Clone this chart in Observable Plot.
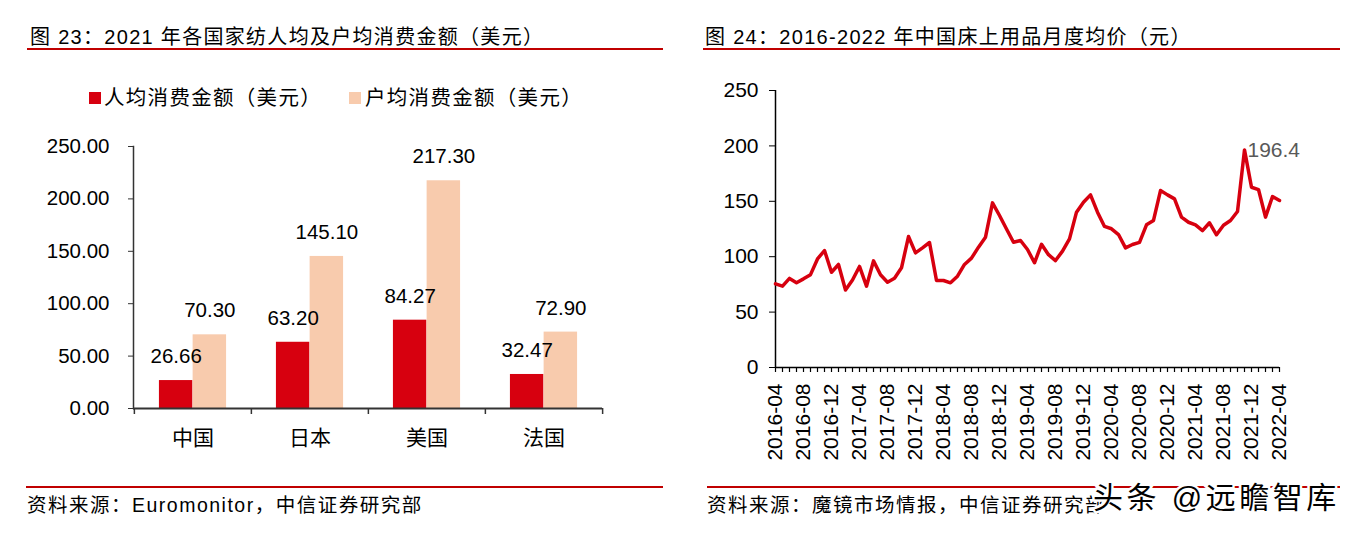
<!DOCTYPE html>
<html><head><meta charset="utf-8">
<script src="https://cdn.jsdelivr.net/npm/d3@7"></script>
<script src="https://cdn.jsdelivr.net/npm/@observablehq/plot@0.6"></script>
<style>
body{margin:0;background:#fff;}
#page{position:relative;width:1353px;height:534px;overflow:hidden;font-family:"Liberation Sans",Arial,"Noto Sans CJK SC",sans-serif;color:#000;background:#fff;}
.abs{position:absolute;white-space:nowrap;}
.title{font-size:20px;line-height:24px;letter-spacing:1.3px;}
.rule{position:absolute;height:2px;background:#C00000;}
.legend{font-size:20.5px;line-height:24px;letter-spacing:1.3px;}
.sw{position:absolute;width:12px;height:12px;}
.src{font-size:19.5px;line-height:24px;letter-spacing:1.5px;}
.wm{font-size:30px;line-height:34px;font-weight:400;color:#000;letter-spacing:3.5px;-webkit-text-stroke:5px #fff;paint-order:stroke fill;}
svg.chart{position:absolute;overflow:visible;}
</style></head>
<body><div id="page"></div>
<script>
// ---------- data ----------
const countries = ["中国", "日本", "美国", "法国"];
const perCapita = [26.66, 63.20, 84.27, 32.47];
const perHousehold = [70.30, 145.10, 217.30, 72.90];
const barSeries = ["人均消费金额（美元）", "户均消费金额（美元）"];
const barColors = ["#D7000F", "#F8CBAD"];
const barTicks = [0, 50, 100, 150, 200, 250];

const monthStart = "2016-04";
const monthEnd = "2022-04";
const priceValues = [
  75.5, 73.4, 80.4, 76.5, 80, 83.8, 98, 105.6, 86,
  93, 70, 79, 91.2, 73.4, 96.2, 83.7, 77, 80.6, 90, 118.2, 103.5,
  108, 112.8, 78.5, 78.5, 76.4, 82.4, 93, 98.7, 108.6, 117.6, 148.6, 137.2,
  125, 113, 114.6, 106.5, 94.5, 111.2, 101.8, 96.5, 105, 116.1, 140.2, 149.2,
  155.8, 140.2, 127.3, 125.2, 120, 108, 111, 113, 128.8, 132.7, 159.7, 155.8,
  152.2, 135.7, 131.1, 128.8, 123.6, 130.6, 119.8, 128.4, 132.7, 140.8, 196.4, 162.7,
  160.6, 135.7, 154.3, 150.7
];
const lineTicks = [0, 50, 100, 150, 200, 250];
const monthTickLabels = ["2016-04","2016-08","2016-12","2017-04","2017-08","2017-12","2018-04","2018-08","2018-12",
  "2019-04","2019-08","2019-12","2020-04","2020-08","2020-12","2021-04","2021-08","2021-12","2022-04"];

const titleLeft = "图 23：2021 年各国家纺人均及户均消费金额（美元）";
const titleRight = "图 24：2016-2022 年中国床上用品月度均价（元）";
const sourceLeft = "资料来源：Euromonitor，中信证券研究部";
const sourceRight = "资料来源：魔镜市场情报，中信证券研究部";
const watermark = "头条 @远瞻智库";

// ---------- layout helpers ----------
const FONT = '"Liberation Sans", Arial, "Noto Sans CJK SC", sans-serif';
const page = document.getElementById("page");
function addDiv(cls, text, left, top, extra) {
  const d = document.createElement("div");
  d.className = "abs " + cls;
  d.textContent = text;
  d.style.left = left + "px";
  d.style.top = top + "px";
  if (extra) Object.assign(d.style, extra);
  page.appendChild(d);
  return d;
}
function addRule(left, top, width) {
  const d = document.createElement("div");
  d.className = "rule";
  d.style.left = left + "px"; d.style.top = top + "px"; d.style.width = width + "px";
  page.appendChild(d);
}

// titles and rules
addDiv("title", titleLeft, 30, 25);
addRule(27, 48, 636);
addDiv("title", titleRight, 705, 25);
addRule(703, 48, 637);

// legend (left chart)
const legendPos = [[89, 104], [349, 365]];
barSeries.forEach((s, i) => {
  const sw = document.createElement("div");
  sw.className = "sw";
  sw.style.left = legendPos[i][0] + "px"; sw.style.top = "92px";
  sw.style.background = barColors[i];
  page.appendChild(sw);
  addDiv("legend", s, legendPos[i][1], 86);
});

// ---------- bar chart ----------
const W1 = 680, H1 = 350, ML1 = 133, MR1 = 78;
const bw = (W1 - ML1 - MR1) / countries.length;
const barW = 33.7;
const barData = countries.flatMap((c, i) => [
  {country: c, series: barSeries[0], value: perCapita[i]},
  {country: c, series: barSeries[1], value: perHousehold[i]}
]);
const redData = barData.filter(d => d.series === barSeries[0]);
const peachData = barData.filter(d => d.series === barSeries[1]);
const axisCol = "#333";
const barPlot = Plot.plot({
  width: W1, height: H1, marginLeft: ML1, marginRight: MR1, marginTop: 26, marginBottom: 62,
  style: {fontFamily: FONT, fontSize: "20.5px", color: "#000", background: "transparent", overflow: "visible"},
  x: {domain: countries, padding: 0, axis: null},
  y: {domain: [0, 250], axis: null},
  color: {domain: barSeries, range: barColors},
  marks: [
    Plot.barY(redData, {x: "country", y: "value", fill: "series", insetLeft: bw / 2 - barW, insetRight: bw / 2}),
    Plot.barY(peachData, {x: "country", y: "value", fill: "series", insetLeft: bw / 2, insetRight: bw / 2 - barW}),
    Plot.text(redData, {x: "country", y: "value", text: d => d.value.toFixed(2), dx: -barW / 2, dy: -24, fontSize: 20.5, fill: "#000"}),
    Plot.text(peachData, {x: "country", y: "value", text: d => d.value.toFixed(2), dx: barW / 2, dy: -24, fontSize: 20.5, fill: "#000"}),
    Plot.frame({anchor: "left", stroke: axisCol, strokeWidth: 1.5}),
    Plot.ruleY([0], {stroke: axisCol, strokeWidth: 2}),
    Plot.axisY({ticks: barTicks, tickFormat: d => d.toFixed(2), tickSize: 5, tickPadding: 19, stroke: axisCol, fill: "#000", fontSize: 20.5, label: null}),
    Plot.axisX({tickSize: 0, tickPadding: 22, fontSize: 21, fill: "#000", label: null}),
    Plot.axisX({tickSize: 6, text: null, dx: -bw / 2, stroke: axisCol, strokeWidth: 1.5, label: null}),
    Plot.axisX({ticks: [countries[countries.length - 1]], tickSize: 6, text: null, dx: bw / 2, stroke: axisCol, strokeWidth: 1.5, label: null})
  ]
});
barPlot.classList.add("chart");
barPlot.style.left = "0px"; barPlot.style.top = "120px";
page.appendChild(barPlot);

// ---------- line chart ----------
const parseM = d3.utcParse("%Y-%m"), fmtM = d3.utcFormat("%Y-%m");
const months = d3.utcMonth.range(parseM(monthStart), d3.utcMonth.offset(parseM(monthEnd), 1)).map(fmtM);
const lineData = months.map((m, i) => ({month: m, value: priceValues[i]}));
const peak = d3.greatest(lineData, d => d.value);
const W2 = 673, H2 = 410;
const linePlot = Plot.plot({
  width: W2, height: H2, marginLeft: 95, marginRight: 74, marginTop: 20, marginBottom: 113,
  style: {fontFamily: FONT, fontSize: "21px", color: "#000", background: "transparent", overflow: "visible"},
  x: {type: "point", domain: months, padding: 0, axis: null},
  y: {domain: [0, 250], axis: null},
  marks: [
    Plot.ruleX([months[0]], {y1: 0, y2: 250, stroke: "#000", strokeWidth: 1.5}),
    Plot.ruleY([0], {stroke: "#000", strokeWidth: 1.5}),
    Plot.axisY({ticks: lineTicks, tickSize: 6, tickPadding: 11, stroke: "#000", fill: "#000", fontSize: 21, label: null}),
    Plot.axisX({ticks: months, tickSize: 5, text: null, stroke: "#000", strokeWidth: 1.2, label: null}),
    Plot.axisX({ticks: monthTickLabels, tickSize: 0, tickPadding: 16, tickRotate: -90, fill: "#000", fontSize: 21, label: null}),
    Plot.line(lineData, {x: "month", y: "value", stroke: "#D7000F", strokeWidth: 3.5, strokeLinejoin: "round"}),
    Plot.text([peak], {x: "month", y: "value", text: d => d.value.toFixed(1), textAnchor: "start", dx: 3, fill: "#595959", fontSize: 21})
  ]
});
linePlot.classList.add("chart");
linePlot.style.left = "680px"; linePlot.style.top = "70px";
page.appendChild(linePlot);

// ---------- footer ----------
addRule(26, 486, 637);
addRule(707, 486, 633);
addDiv("src", sourceLeft, 27, 493);
addDiv("src", sourceRight, 707, 493);
addDiv("wm", watermark, 1093, 481);
</script></body></html>
